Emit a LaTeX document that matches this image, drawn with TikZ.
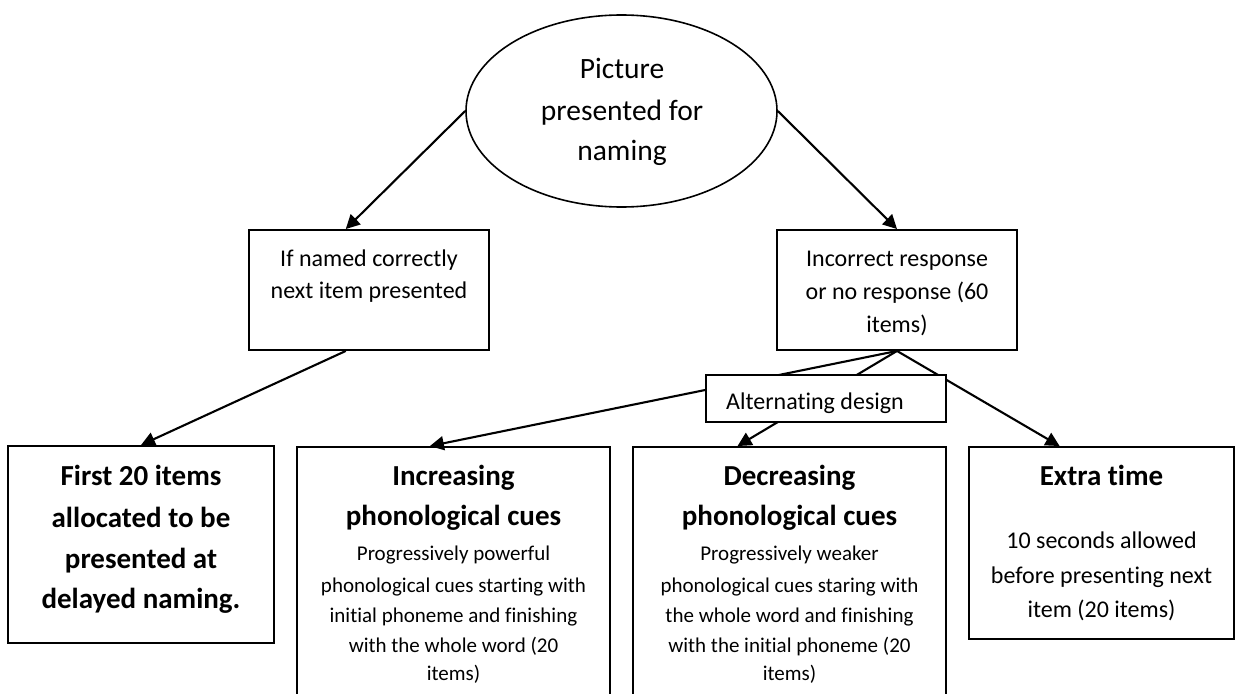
\documentclass[tikz,border=0pt]{standalone}
\usepackage{fontspec}
\setmainfont{Carlito}[Ligatures=NoCommon]
\usetikzlibrary{arrows.meta,calc,shapes.geometric}

% font sizes used in the chart
\newcommand{\fOval}{\fontsize{29.5}{35}\selectfont}
\newcommand{\fMid}{\fontsize{24}{30}\selectfont}
\newcommand{\fHead}{\fontsize{29}{35}\selectfont\bfseries}
\newcommand{\fSmall}{\fontsize{21}{26}\selectfont}

\tikzset{
  box/.style={draw, rectangle, line width=1.9pt, fill=white, inner sep=0pt},
  oval/.style={draw, ellipse, line width=1.6pt, fill=white, inner sep=0pt},
  conn/.style={line width=2.1pt, -{Triangle[length=14pt,width=14pt]}},
  txt/.style={anchor=base, inner sep=0pt},
}

\begin{document}
\begin{tikzpicture}[x=1pt, y=-1pt]
\clip (0,0) rectangle (1241,693);
\fill[white] (0,0) rectangle (1241,693);

% top of the chart
\node[oval, minimum width=311pt, minimum height=192pt] (pic) at (621.5,111) {};
\node[box, minimum width=240pt, minimum height=120pt] (ok) at (369,290) {};
\node[box, minimum width=240pt, minimum height=120pt] (wrong) at (897,290) {};

% bottom row
\node[box, minimum width=266pt, minimum height=197pt] (delay) at (141,544.5) {};
\node[box, minimum width=313pt, minimum height=258pt] (incr) at (453.5,576) {};
\node[box, minimum width=313pt, minimum height=258pt] (decr) at (789.5,576) {};
\node[box, minimum width=265pt, minimum height=192pt] (extra) at (1101.5,543) {};

% connectors
\draw[conn] (pic.west) -- ($(ok.north west)!0.404!(ok.north east)$);
\draw[conn] (pic.east) -- (wrong.north);
\draw[conn] ($(ok.south west)!0.404!(ok.south east)$) -- (delay.north);
\draw[conn] (wrong.south) -- ($(incr.north west)!0.425!(incr.north east)$);
\draw[conn] (wrong.south) -- ($(decr.north west)!0.335!(decr.north east)$);
\draw[conn] (wrong.south) -- ($(extra.north west)!0.343!(extra.north east)$);

% label box sitting over the branching lines
\node[box, minimum width=240pt, minimum height=47pt] (alt) at (826,398.5) {};

% texts
\node[txt, font=\fOval] (p1) at (622,78) {Picture};
\node[txt, font=\fOval] (p2) at (622,120) {presented for};
\node[txt, font=\fOval] (p3) at (622,160) {naming};

\node[txt, font=\fMid] (k1) at (369,266) {If named correctly};
\node[txt, font=\fMid] (k2) at (369,298) {next item presented};

\node[txt, font=\fMid] (w1) at (897,266) {Incorrect response};
\node[txt, font=\fMid] (w2) at (897,299) {or no response (60};
\node[txt, font=\fMid] (w3) at (897,332) {items)};

\node[txt, font=\fMid] (a1) at (815,409) {Alternating design};

\node[txt, font=\fHead] (d1) at (141,485) {First 20 items};
\node[txt, font=\fHead] (d2) at (141,527) {allocated to be};
\node[txt, font=\fHead] (d3) at (141,568) {presented at};
\node[txt, font=\fHead] (d4) at (141,608) {delayed naming.};

\node[txt, font=\fHead] (i1) at (453.5,485) {Increasing};
\node[txt, font=\fHead] (i2) at (453.5,525) {phonological cues};
\node[txt, font=\fSmall] (i3) at (453.5,560) {Progressively powerful};
\node[txt, font=\fSmall] (i4) at (453.5,592) {phonological cues starting with};
\node[txt, font=\fSmall] (i5) at (453.5,622) {initial phoneme and finishing};
\node[txt, font=\fSmall] (i6) at (453.5,652) {with the whole word (20};
\node[txt, font=\fSmall] (i7) at (453.5,680) {items)};

\node[txt, font=\fHead] (c1) at (789.5,485) {Decreasing};
\node[txt, font=\fHead] (c2) at (789.5,525) {phonological cues};
\node[txt, font=\fSmall] (c3) at (789.5,560) {Progressively weaker};
\node[txt, font=\fSmall] (c4) at (789.5,592) {phonological cues staring with};
\node[txt, font=\fSmall] (c5) at (789.5,622) {the whole word and finishing};
\node[txt, font=\fSmall] (c6) at (789.5,652) {with the initial phoneme (20};
\node[txt, font=\fSmall] (c7) at (789.5,680) {items)};

\node[txt, font=\fHead] (x1) at (1101.5,485) {Extra time};
\node[txt, font=\fMid] (x2) at (1101.5,548) {10 seconds allowed};
\node[txt, font=\fMid] (x3) at (1101.5,583) {before presenting next};
\node[txt, font=\fMid] (x4) at (1101.5,617) {item (20 items)};
\end{tikzpicture}
\end{document}
